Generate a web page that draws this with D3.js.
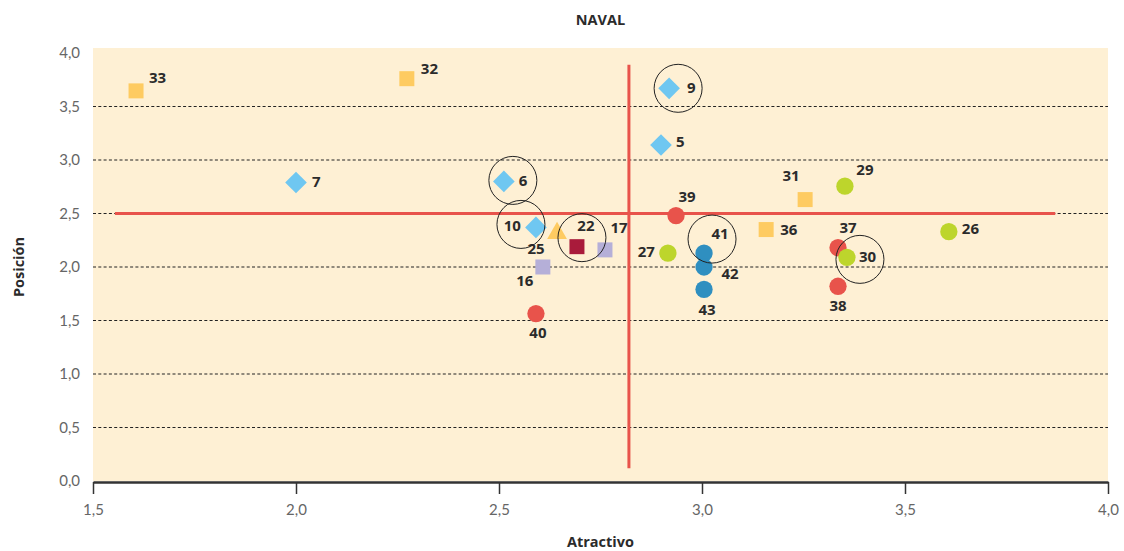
<!DOCTYPE html>
<html><head><meta charset="utf-8">
<script src="https://cdn.jsdelivr.net/npm/d3@7"></script>
<style>
body{margin:0;background:#fff;}
svg{display:block;font-family:"Open Sans","Noto Sans",sans-serif;}
</style></head>
<body><svg id="c" width="1124" height="551"></svg>
<script>
// ---- data ----
const ids      = ["33","32","7","6","10","25","16","22","17","40","9","5","39","27","41","42","43","36","31","29","37","30","38","26"];
const atract   = [1.606,2.273,2.000,2.512,2.591,2.643,2.608,2.692,2.761,2.591,2.919,2.899,2.936,2.916,3.005,3.005,3.005,3.158,3.254,3.352,3.335,3.357,3.335,3.608];
const posicion = [3.646,3.760,2.790,2.800,2.370,2.315,2.000,2.190,2.160,1.565,3.670,3.140,2.480,2.130,2.130,2.000,1.790,2.350,2.630,2.755,2.180,2.090,1.820,2.330];
const groups   = ["amarillo","amarillo","azulClaro","azulClaro","azulClaro","triangulo","lila","granate","lila","rojo","azulClaro","azulClaro","rojo","verde","azul","azul","azul","amarillo","amarillo","verde","rojo","verde","rojo","verde"];
const highlighted = ["9","6","10","22","41","30"];
const xTicks = [1.5,2.0,2.5,3.0,3.5,4.0];
const yTicks = [0,0.5,1.0,1.5,2.0,2.5,3.0,3.5,4.0];
const xMid = 2.82, yMid = 2.5;
const hLineX = [1.554, 3.87];
const vLineY = [0.12, 3.89];

// ---- styles ----
const styles = {
  amarillo:  {shape:"square",  color:"#fecb61"},
  azulClaro: {shape:"diamond", color:"#6fc7f1"},
  triangulo: {shape:"triangle",color:"#fecb61"},
  lila:      {shape:"square",  color:"#b5afd8"},
  granate:   {shape:"square",  color:"#a91b3b"},
  rojo:      {shape:"circle",  color:"#e8534b"},
  verde:     {shape:"circle",  color:"#bdd52c"},
  azul:      {shape:"circle",  color:"#2f8fc0"}
};
// label placement offsets (px) and anchors
const labelPlace = {
  "33":[13,-13,"start"],"32":[14,-10,"start"],"7":[16,-1,"start"],"6":[15,-1,"start"],
  "10":[-15,-2,"end"],"25":[-21,15,"middle"],"16":[-18,14,"middle"],"22":[9,-21,"middle"],
  "17":[14,-22,"middle"],"40":[2,19,"middle"],"9":[18,-1,"start"],"5":[15,-3,"start"],
  "39":[11,-19,"middle"],"27":[-13,-1,"end"],"41":[16,-19,"middle"],"42":[26,7,"middle"],
  "43":[3,20,"middle"],"36":[14,0,"start"],"31":[-14,-24,"middle"],"29":[20,-17,"middle"],
  "37":[10,-20,"middle"],"30":[12,-1,"start"],"38":[0,19,"middle"],"26":[13,-3,"start"]
};
const circleOffset = {"9":[9,0],"6":[9,-1],"10":[-15,-3],"22":[5,-9],"41":[8,-14],"30":[13,2]};

const svg = d3.select("#c");
const m = {l:93, r:16, t:53, b:70};
const W = 1124, H = 551;
const x = d3.scaleLinear().domain([1.5,4.0]).range([m.l, W-m.r]);
const y = d3.scaleLinear().domain([0,4.0]).range([H-m.b, m.t]);

// background
svg.append("rect").attr("x",x(1.5)).attr("y",y(4)-5).attr("width",x(4)-x(1.5)).attr("height",y(0)-y(4)+5).attr("fill","#fef0d4");

// grid
svg.append("g").selectAll("line").data(yTicks.filter(d=>d>0&&d<4)).join("line")
  .attr("x1",x(1.5)).attr("x2",x(4)).attr("y1",d=>y(d)).attr("y2",d=>y(d))
  .attr("stroke","#222").attr("stroke-width",1.2).attr("stroke-dasharray","3,2.3");

// y labels
svg.append("g").selectAll("text").data(yTicks).join("text")
  .attr("x",x(1.5)-13).attr("y",d=>y(d)).attr("dy","0.35em").attr("text-anchor","end")
  .attr("font-size",15).attr("fill","#666").attr("font-family","Lato, 'Open Sans', sans-serif")
  .text(d=>d3.format(".1f")(d).replace(".",","));

// x axis
const xAxis = d3.axisBottom(x).tickValues(xTicks).tickSize(12).tickSizeOuter(0)
  .tickFormat(d=>d3.format(".1f")(d).replace(".",","));
const gx = svg.append("g").attr("transform",`translate(0,${y(0)+1})`).call(xAxis);
gx.select(".domain").attr("stroke","#333").attr("stroke-width",2.5);
gx.selectAll(".tick line").attr("stroke","#333").attr("stroke-width",1.5);
gx.selectAll(".tick text").attr("font-size",15).attr("fill","#666").attr("dy","1.2em")
  .attr("font-family","Lato, 'Open Sans', sans-serif");

// red quadrant lines
svg.append("line").attr("x1",x(hLineX[0])).attr("x2",x(hLineX[1])).attr("y1",y(yMid)).attr("y2",y(yMid))
  .attr("stroke","#e8534b").attr("stroke-width",3);
svg.append("line").attr("x1",x(xMid)).attr("x2",x(xMid)).attr("y1",y(vLineY[0])).attr("y2",y(vLineY[1]))
  .attr("stroke","#e8534b").attr("stroke-width",3);

// points
const pts = ids.map((id,i)=>({id, x:atract[i], y:posicion[i], g:groups[i]}));
const sym = {square:d3.symbolSquare, diamond:d3.symbolSquare, triangle:d3.symbolTriangle, circle:d3.symbolCircle};
const size = {square:225, diamond:235, triangle:170, circle:235};
svg.append("g").selectAll("path").data(pts).join("path")
  .attr("transform",d=>{
    const s=styles[d.g].shape;
    return `translate(${x(d.x)},${y(d.y)})`+(s==="diamond"?" rotate(45)":"");
  })
  .attr("d",d=>d3.symbol(sym[styles[d.g].shape], size[styles[d.g].shape])())
  .attr("fill",d=>styles[d.g].color);

// labels
svg.append("g").selectAll("text").data(pts).join("text")
  .attr("x",d=>x(d.x)+labelPlace[d.id][0]).attr("y",d=>y(d.y)+labelPlace[d.id][1])
  .attr("dy","0.36em").attr("text-anchor",d=>labelPlace[d.id][2])
  .attr("font-size",15).attr("font-weight",700).attr("fill","#2b2b2b").text(d=>d.id);

// highlight circles
svg.append("g").selectAll("circle").data(pts.filter(d=>highlighted.includes(d.id))).join("circle")
  .attr("cx",d=>x(d.x)+circleOffset[d.id][0]).attr("cy",d=>y(d.y)+circleOffset[d.id][1])
  .attr("r",24).attr("fill","none").attr("stroke","#222").attr("stroke-width",1);

// titles
svg.append("text").attr("x",(x(1.5)+x(4))/2).attr("y",20).attr("dy","0.35em").attr("text-anchor","middle")
  .attr("font-size",14.5).attr("font-weight",700).attr("fill","#2b2b2b").text("NAVAL");
svg.append("text").attr("x",(x(1.5)+x(4))/2).attr("y",542).attr("dy","0.35em").attr("text-anchor","middle")
  .attr("font-size",14.5).attr("font-weight",700).attr("fill","#2b2b2b").text("Atractivo");
svg.append("text").attr("transform",`translate(19,${(y(0)+y(4))/2}) rotate(-90)`).attr("dy","0.35em")
  .attr("text-anchor","middle").attr("font-size",14.5).attr("font-weight",700).attr("fill","#2b2b2b").text("Posición");
</script></body></html>
